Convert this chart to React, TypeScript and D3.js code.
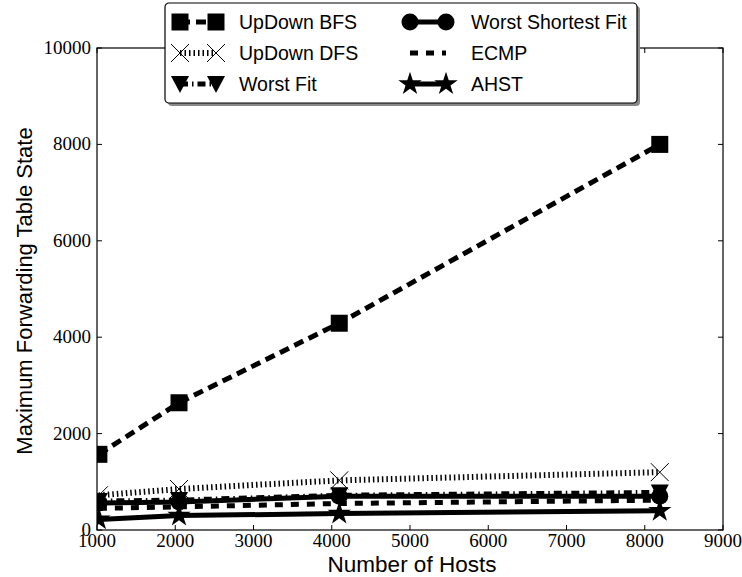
import React from "react";
import * as d3 from "d3";

const hosts = [1024, 2048, 4096, 8192];
const updownBFS = [1570, 2640, 4290, 8000];
const updownDFS = [720, 850, 1030, 1200];
const worstFit = [600, 620, 720, 780];
const worstShortestFit = [560, 580, 700, 700];
const ecmp = [450, 480, 550, 620];
const ahst = [220, 300, 340, 400];
const xTicks = [1000, 2000, 3000, 4000, 5000, 6000, 7000, 8000, 9000];
const yTicks = [0, 2000, 4000, 6000, 8000, 10000];

const W = 742, H = 577;
const L = 97, R = 723, T = 48, B = 530;

type Series = { name: string; values: number[]; dash: string; marker: string; lw: number };
const series: Series[] = [
  { name: "UpDown BFS", values: updownBFS, dash: "10,6", marker: "square", lw: 5 },
  { name: "UpDown DFS", values: updownDFS, dash: "1.5,3", marker: "x", lw: 6 },
  { name: "Worst Fit", values: worstFit, dash: "8,4,1.5,4", marker: "tri", lw: 5 },
  { name: "Worst Shortest Fit", values: worstShortestFit, dash: "", marker: "circle", lw: 5 },
  { name: "ECMP", values: ecmp, dash: "8,8", marker: "none", lw: 5 },
  { name: "AHST", values: ahst, dash: "", marker: "star", lw: 5 },
];

function Marker({ type, x, y }: { type: string; x: number; y: number }) {
  if (type === "square") return <rect x={x - 8.5} y={y - 8.5} width={17} height={17} fill="#000" />;
  if (type === "circle") return <circle cx={x} cy={y} r={8.5} fill="#000" />;
  if (type === "x")
    return (
      <path d={`M${x - 9},${y - 9}L${x + 9},${y + 9}M${x - 9},${y + 9}L${x + 9},${y - 9}`} stroke="#000" strokeWidth={1} fill="none" />
    );
  if (type === "tri") return <path d={`M${x - 9},${y - 8}L${x + 9},${y - 8}L${x},${y + 9}Z`} fill="#000" />;
  if (type === "star") {
    const p = d3.symbol().type(d3.symbolStar).size(170)();
    return <path d={p || ""} transform={`translate(${x},${y})`} fill="#000" />;
  }
  return null;
}

export default function App() {
  const x = d3.scaleLinear().domain([1000, 9000]).range([L, R]);
  const y = d3.scaleLinear().domain([0, 10000]).range([B, T]);
  const line = d3.line<number>().x((_, i) => x(hosts[i])).y((d) => y(d));
  const serif = "'Liberation Serif', 'DejaVu Serif', serif";
  const sans = "'Liberation Sans', Arial, sans-serif";

  const legendRows = [
    [series[0], series[3]],
    [series[1], series[4]],
    [series[2], series[5]],
  ];

  return (
    <svg width={W} height={H} style={{ position: "absolute", left: 0, top: 0, background: "#fff" }}>
      <rect x={0} y={0} width={W} height={H} fill="#fff" />
      <defs>
        <clipPath id="plot">
          <rect x={L} y={T - 10} width={R - L + 10} height={B - T + 20} />
        </clipPath>
      </defs>
      {/* axes box */}
      <rect x={L} y={T} width={R - L} height={B - T} fill="none" stroke="#000" strokeWidth={1.2} />
      {xTicks.map((t) => (
        <g key={"x" + t}>
          <line x1={x(t)} x2={x(t)} y1={B} y2={B - 5} stroke="#000" />
          <line x1={x(t)} x2={x(t)} y1={T} y2={T + 5} stroke="#000" />
          <text x={x(t)} y={B + 17} textAnchor="middle" fontFamily={serif} fontSize={19}>
            {t}
          </text>
        </g>
      ))}
      {yTicks.map((t) => (
        <g key={"y" + t}>
          <line x1={L} x2={L + 5} y1={y(t)} y2={y(t)} stroke="#000" />
          <line x1={R} x2={R - 5} y1={y(t)} y2={y(t)} stroke="#000" />
          <text x={L - 6} y={y(t) + 6} textAnchor="end" fontFamily={serif} fontSize={19}>
            {t}
          </text>
        </g>
      ))}
      <g clipPath="url(#plot)">
        {series.map((s) => (
          <g key={s.name}>
            <path d={line(s.values) || ""} fill="none" stroke="#000" strokeWidth={s.lw} strokeDasharray={s.dash || undefined} />
            {s.values.map((v, i) => (
              <Marker key={i} type={s.marker} x={x(hosts[i])} y={y(v)} />
            ))}
          </g>
        ))}
      </g>
      <text x={412} y={572} textAnchor="middle" fontFamily={sans} fontSize={22.5}>
        Number of Hosts
      </text>
      <text transform={`translate(32,${(T + B) / 2 + 2}) rotate(-90)`} textAnchor="middle" fontFamily={sans} fontSize={22}>
        Maximum Forwarding Table State
      </text>
      {/* legend */}
      <rect x={168} y={6} width={472} height={100} rx={4} fill="#888" />
      <rect x={165} y={3} width={472} height={100} rx={4} fill="#fff" stroke="#000" strokeWidth={1.2} />
      {legendRows.map((row, ri) => {
        const ly = 22 + ri * 31;
        return row.map((s, ci) => {
          const x0 = ci === 0 ? 180 : 410;
          const x1 = ci === 0 ? 216 : 446;
          const tx = ci === 0 ? 239 : 471;
          return (
            <g key={s.name}>
              <line x1={x0} x2={x1} y1={ly} y2={ly} stroke="#000" strokeWidth={s.lw} strokeDasharray={s.dash || undefined} />
              <Marker type={s.marker} x={x0} y={ly} />
              <Marker type={s.marker} x={x1} y={ly} />
              <text x={tx} y={ly + 7} fontFamily={sans} fontSize={19.5}>
                {s.name}
              </text>
            </g>
          );
        });
      })}
    </svg>
  );
}
